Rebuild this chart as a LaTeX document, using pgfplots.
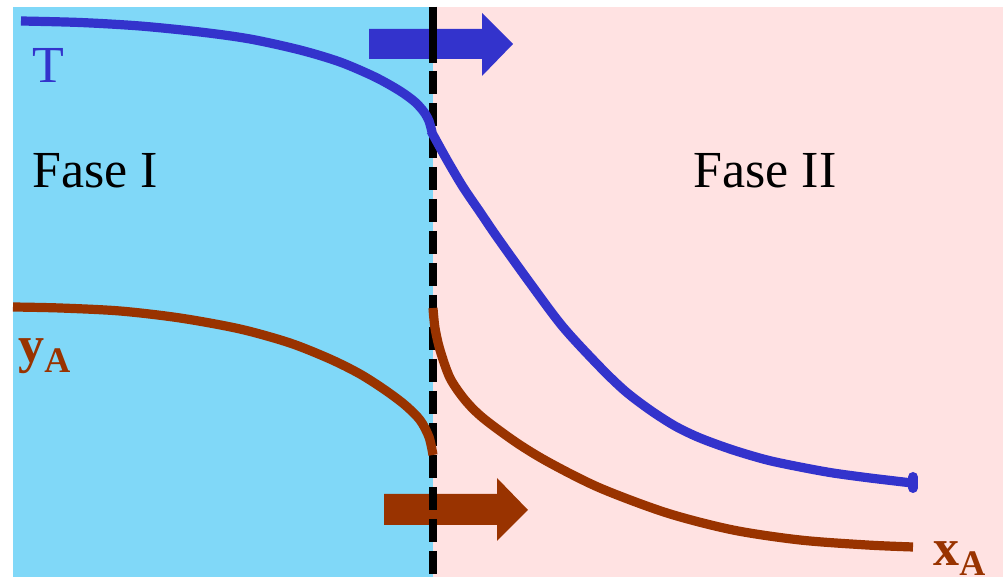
\documentclass[border=0pt]{standalone}
\usepackage{pgfplots}
\pgfplotsset{compat=1.18}
\usepackage{fontspec}
\setmainfont{Liberation Serif}
\definecolor{lblue}{RGB}{128,216,248}
\definecolor{lpink}{RGB}{255,226,226}
\definecolor{tblue}{RGB}{51,51,204}
\definecolor{rbrown}{RGB}{153,51,0}
\begin{document}
\begin{tikzpicture}
\begin{axis}[
  x=0.5pt, y=0.5pt,
  xmin=0, xmax=1003, ymin=0, ymax=581,
  y dir=reverse,
  hide axis, clip=false,
  scale only axis,
]
% background and regions
\addplot[fill=white, draw=none] coordinates {(0,0)(1003,0)(1003,581)(0,581)} -- cycle;
\addplot[fill=lblue, draw=none] coordinates {(13,7)(433,7)(433,577)(13,577)} -- cycle;
\addplot[fill=lpink, draw=none] coordinates {(433,7)(1003,7)(1003,577)(433,577)} -- cycle;
% arrows
\addplot[fill=tblue, draw=none] coordinates {(369,29)(482,29)(482,13)(513,44)(482,76)(482,59)(369,59)} -- cycle;
\addplot[fill=rbrown, draw=none] coordinates {(384,494)(497,494)(497,478)(528,510)(497,541)(497,525)(384,525)} -- cycle;
% interface
\addplot[black, line width=4pt, dash pattern=on 11.5pt off 4.5pt] coordinates {(433,7)(433,577)};
\addplot[black, line width=4pt] coordinates {(433,7)(433,63)};
% T curve
\addplot[tblue, line width=4.6pt, smooth, line cap=butt] coordinates {
(21,21)(80,22.5)(140,26)(200,32)(250,39)(300,50)(340,62)(375,77)(400,91)(415,102)(424,112)(429,121)(432,132)};
\addplot[tblue, line width=4.6pt, smooth, line cap=butt] coordinates {
(431,131)(447,160)(463,187)(480,212)(497,237)(530,283)(563,327)(600,367)(625,391)(650,410)(675,426)(700,438)(733,450)(767,460)(800,467)(833,473)(870,478)(912,483)};
\addplot[tblue, line width=5pt, line cap=round] coordinates {(913,477)(913,488)};
% y_A curve
\addplot[rbrown, line width=4.6pt, smooth, line cap=butt] coordinates {
(13,307)(60,308)(120,311)(180,318)(240,329)(290,343)(330,359)(360,374)(385,390)(405,405)(420,420)(429,437)(433,455)};
% x_A curve
\addplot[rbrown, line width=4.6pt, smooth, line cap=butt] coordinates {
(433,308)(435,328)(440,350)(450,378)(465,400)(483,418)(517,443)(550,463)(600,488)(667,513)(733,530)(800,540)(867,545)(913,547)};
% labels
\node[anchor=base, inner sep=0pt, text=tblue, font=\fontsize{26}{30}\selectfont] at (axis cs:48,83) {T};
\node[anchor=base, inner sep=0pt, font=\fontsize{26}{30}\selectfont] at (axis cs:95,188) {Fase I};
\node[anchor=base, inner sep=0pt, font=\fontsize{26}{30}\selectfont] at (axis cs:765,188) {Fase II};
\node[anchor=base west, inner sep=0pt, text=rbrown, font=\fontsize{26}{30}\selectfont\bfseries] at (axis cs:18,363) {y\raisebox{-5pt}{\fontsize{18}{18}\selectfont A}};
\node[anchor=base west, inner sep=0pt, text=rbrown, font=\fontsize{26}{30}\selectfont\bfseries] at (axis cs:933,566) {x\raisebox{-5pt}{\fontsize{18}{18}\selectfont A}};
\end{axis}
\end{tikzpicture}
\end{document}
